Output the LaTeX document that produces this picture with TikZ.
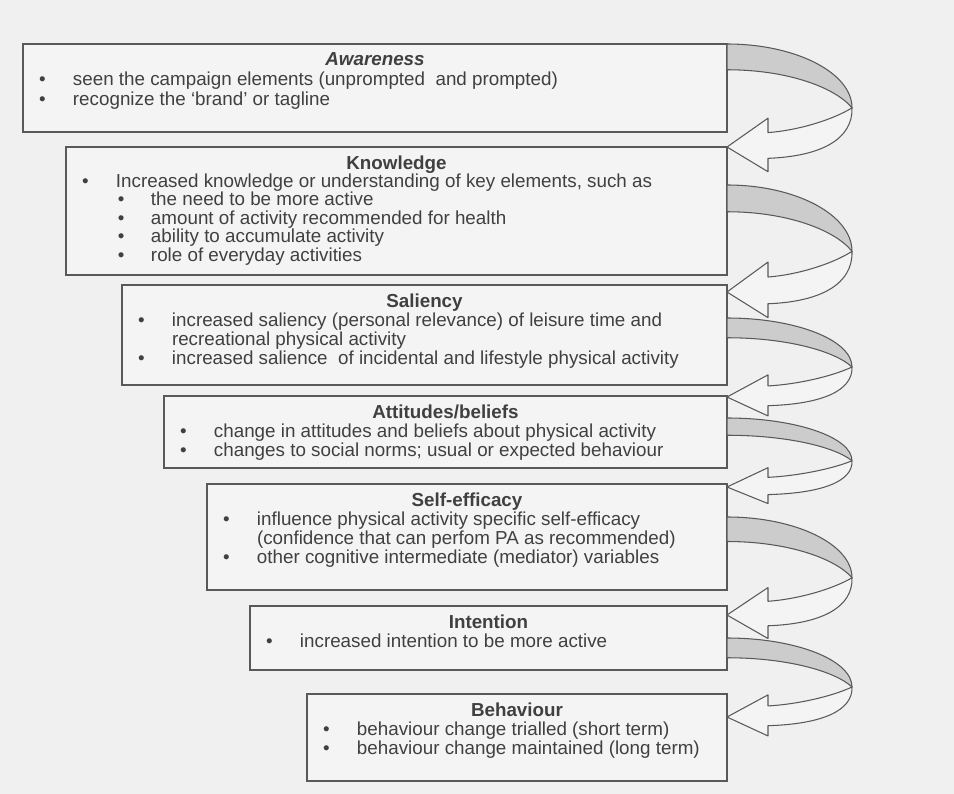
\documentclass[tikz,border=0pt]{standalone}
\usepackage{fontspec}
\setmainfont{Liberation Sans}
\usepackage{xcolor}
\usepackage{tikz}
\usetikzlibrary{positioning,calc}

\definecolor{paper}{gray}{0.94}
\definecolor{boxfill}{gray}{0.955}
\definecolor{edge}{gray}{0.35}
\definecolor{ink}{gray}{0.25}
\definecolor{band}{gray}{0.80}

\newlength{\pxu}\setlength{\pxu}{0.02cm}
\newcommand{\stagetext}[4][11.0]{\parbox[c][#3\pxu][t]{#2\pxu}{\fontsize{10.7}{#1}\selectfont\color{ink}#4}}
\newcommand{\stagetitle}[1]{{\centering\rule{0pt}{22\pxu}#1\par}}
\newcommand{\bitem}{\par\noindent\hspace*{16\pxu}\makebox[34\pxu][l]{\textbullet}}
\newcommand{\bsubitem}{\par\noindent\hspace*{52\pxu}\makebox[33\pxu][l]{\textbullet}}
\newcommand{\bcont}{\par\noindent\hspace*{50\pxu}}

% twisted band arrow from a start point (#1) to a tip point (#2)
\newcommand{\ribbon}[2]{%
  \path (#1); \pgfgetlastxy{\rbx}{\rby}
  \path (#2); \pgfgetlastxy{\rtx}{\rty}
  \pgfmathsetmacro{\rbh}{\rby-\rty}
  \begin{scope}[shift={(\rbx,\rby)}, x=0.02cm, y={(0pt,-\rbh pt)}]
    % back of the band
    \draw[ribbonline, fill=band] (0,0) .. controls (69,0) and (125,0.28) .. (125,0.62)
      .. controls (108,0.42) and (60,0.25) .. (0,0.25) -- cycle;
    % front of the band and its head
    \draw[ribbonline, fill=boxfill] (125,0.62) .. controls (105,0.74) and (70,0.84) .. (41,0.86)
      -- (41,0.72) -- (0,1) -- (41,1.24) -- (41,1.11)
      .. controls (95,1.09) and (126,0.92) .. (125,0.62) -- cycle;
  \end{scope}}

\begin{document}
\begin{tikzpicture}[x=0.02cm, y=-0.02cm,
  stage/.style={draw=edge, line width=0.7pt, fill=boxfill, inner sep=0pt, outer sep=0pt, anchor=north west},
  ribbonline/.style={draw=edge, line width=0.6pt, line join=round}]
\fill[paper] (0,0) rectangle (954,794);
\useasboundingbox (0,0) rectangle (954,794);

% Awareness
\node[stage] (aware) at (23,44) {\stagetext[11.3]{704}{88}{%
  \stagetitle{\bfseries\itshape Awareness}
  \bitem seen the campaign elements (unprompted\ \ and prompted)
  \bitem recognize the ‘brand’ or tagline}};

% Knowledge
\node[stage] (know) at (66,147) {\stagetext[10.5]{661}{128}{%
  \stagetitle{\bfseries Knowledge}
  \bitem Increased knowledge or understanding of key elements, such as
  \bsubitem the need to be more active
  \bsubitem amount of activity recommended for health
  \bsubitem ability to accumulate activity
  \bsubitem role of everyday activities}};

% Saliency
\node[stage] (sal) at (122,285) {\stagetext{605}{100}{%
  \stagetitle{\bfseries Saliency}
  \bitem increased saliency (personal relevance) of leisure time and
  \bcont recreational physical activity
  \bitem increased salience\ \ of incidental and lifestyle physical activity}};

% Attitudes/beliefs
\node[stage] (att) at (164,396) {\stagetext{563}{72}{%
  \stagetitle{\bfseries Attitudes/beliefs}
  \bitem change in attitudes and beliefs about physical activity
  \bitem changes to social norms; usual or expected behaviour}};

% Self-efficacy
\node[stage] (self) at (207,484) {\stagetext{520}{106}{%
  \stagetitle{\bfseries Self-efficacy}
  \bitem influence physical activity specific self-efficacy
  \bcont (confidence that can perfom PA as recommended)
  \bitem other cognitive intermediate (mediator) variables}};

% Intention
\node[stage] (int) at (250,606) {\stagetext{477}{64}{%
  \stagetitle{\bfseries Intention}
  \bitem increased intention to be more active}};

% Behaviour
\node[stage] (beh) at (307,694) {\stagetext{420}{87}{%
  \stagetitle{\bfseries Behaviour}
  \bitem behaviour change trialled (short term)
  \bitem behaviour change maintained (long term)}};

% band starts and tips
\coordinate (s1) at (aware.north east);
\coordinate (t1) at (know.north east);
\coordinate (s2) at ($(know.north east)+(0,38)$);
\coordinate (t2) at ($(sal.north east)+(0,7)$);
\coordinate (s3) at ($(sal.north east)+(0,33)$);
\coordinate (t3) at ($(att.north east)+(0,1)$);
\coordinate (s4) at ($(att.north east)+(0,22)$);
\coordinate (t4) at ($(self.north east)+(0,3)$);
\coordinate (s5) at ($(self.north east)+(0,33)$);
\coordinate (t5) at ($(int.north east)+(0,9)$);
\coordinate (s6) at ($(int.north east)+(0,32)$);
\coordinate (t6) at ($(beh.north east)+(0,23)$);

% Band arrows
\ribbon{s1}{t1}
\ribbon{s2}{t2}
\ribbon{s3}{t3}
\ribbon{s4}{t4}
\ribbon{s5}{t5}
\ribbon{s6}{t6}
\end{tikzpicture}
\end{document}
